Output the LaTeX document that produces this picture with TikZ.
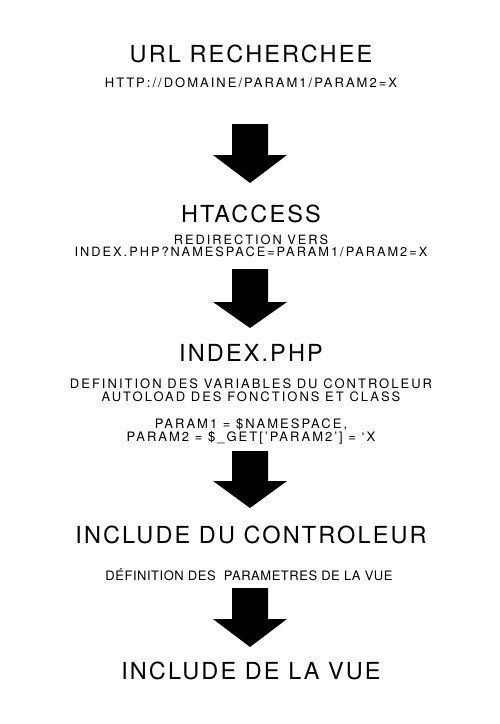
\documentclass[tikz,border=0pt]{standalone}
\usepackage{fontspec}
\setmainfont{TeX Gyre Heros}
\newfontfamily\titlef[LetterSpace=9]{TeX Gyre Heros}
\newfontfamily\smallf[LetterSpace=15.5]{TeX Gyre Heros}
\newfontfamily\tightf[LetterSpace=4]{TeX Gyre Heros}
\tikzset{
  title/.style={anchor=base, inner sep=0pt, font=\titlef\fontsize{23.5}{28}\selectfont},
  sub/.style={anchor=base, inner sep=0pt, align=center, font=\smallf\fontsize{13}{13}\selectfont},
  subclose/.style={anchor=base, inner sep=0pt, align=center, font=\smallf\fontsize{12.8}{12}\selectfont},
  subtight/.style={anchor=base, inner sep=0pt, font=\tightf\fontsize{13}{15}\selectfont},
  blockarrow/.style={fill=black, draw=none}
}
\newcommand\flowarrow[3]{%
  \fill[blockarrow] (232,#1) -- (268,#1) -- (268,#2) -- (287,#2) -- (250,#3) -- (213,#2) -- (232,#2) -- cycle;}
\begin{document}
\begin{tikzpicture}[x=1pt,y=-1pt]
\useasboundingbox[fill=white] (0,0) rectangle (500,724);
\node[title] (url) at (251,62) {URL RECHERCHEE};
\node[sub] (urlsub) at (251,87) {HTTP://DOMAINE/PARAM1/PARAM2=X};
\flowarrow{124}{155}{183}
\node[title] (hta) at (251,222) {HTACCESS};
\node[subclose] (htasub) at (251,256) {REDIRECTION VERS\\INDEX.PHP?NAMESPACE=PARAM1/PARAM2=X};
\flowarrow{269}{302}{328}
\node[title] (idx) at (251,361) {INDEX.PHP};
\node[sub] (idxsub1) at (251,401) {DEFINITION DES VARIABLES DU CONTROLEUR\\AUTOLOAD DES FONCTIONS ET CLASS};
\node[sub] (idxsub2) at (251,441) {PARAM1 = \$NAMESPACE,\\PARAM2 = \$\_GET[’PARAM2’] = ‘X};
\flowarrow{451}{481}{508}
\node[title] (ctrl) at (251,543) {INCLUDE DU CONTROLEUR};
\node[subtight] (ctrlsub) at (249,580) {DÉFINITION DES\ \ PARAMETRES DE LA VUE};
\flowarrow{588}{619}{647}
\node[title] (vue) at (251,679) {INCLUDE DE LA VUE};
\end{tikzpicture}
\end{document}
